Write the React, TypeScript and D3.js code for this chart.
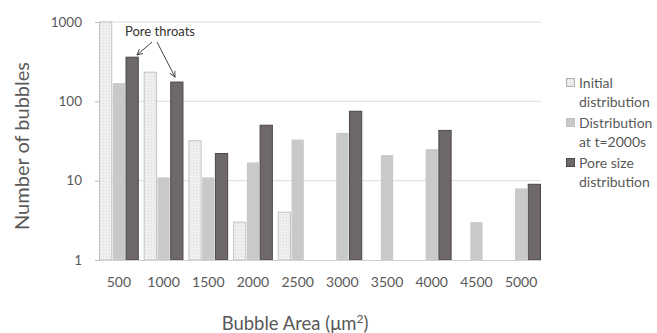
import React, { useRef, useEffect } from 'react';
import * as d3 from 'd3';

const categories = ['500', '1000', '1500', '2000', '2500', '3000', '3500', '4000', '4500', '5000'];
const seriesNames = ['Initial distribution', 'Distribution at t=2000s', 'Pore size distribution'];
const initialValues = [1000, 233, 32, 3, 4, null, null, null, null, null];
const finalValues = [170, 11, 11, 17, 33, 40, 21, 25, 3, 8];
const poreValues = [360, 175, 22, 50, null, 75, null, 43, null, 9];
const yTicks = [1, 10, 100, 1000];
const legendLines = [['Initial', 'distribution'], ['Distribution', 'at t=2000s'], ['Pore size', 'distribution']];

const fills = ['url(#dots)', '#c9c9c9', '#6f6868'];
const strokes = ['#c4c4c4', 'none', '#4d4848'];
const textColor = '#595959';
const font = 'Lato, "Open Sans", sans-serif';

const App = () => {
  const svgRef = useRef(null);

  useEffect(() => {
    const svg = d3.select(svgRef.current);
    svg.selectAll('*').remove();

    const left = 99, right = 541, top = 22, bottom = 260;

    const defs = svg.append('defs');
    const pat = defs.append('pattern')
      .attr('id', 'dots')
      .attr('width', 3).attr('height', 3)
      .attr('patternUnits', 'userSpaceOnUse');
    pat.append('rect').attr('width', 3).attr('height', 3).attr('fill', '#efefef');
    pat.append('rect').attr('x', 1).attr('y', 1).attr('width', 1).attr('height', 1).attr('fill', '#dcdcdc');
    defs.append('marker')
      .attr('id', 'arrow')
      .attr('viewBox', '0 0 10 10')
      .attr('refX', 9).attr('refY', 5)
      .attr('markerWidth', 7).attr('markerHeight', 7)
      .attr('orient', 'auto')
      .append('path')
      .attr('d', 'M1,1 L9,5 L1,9')
      .attr('fill', 'none')
      .attr('stroke', '#444')
      .attr('stroke-width', 1.3);

    const x = d3.scaleBand().domain(categories).range([left, right]).paddingInner(0.11).paddingOuter(0.0);
    const xs = d3.scaleBand().domain(seriesNames).range([0, x.bandwidth()]);
    const y = d3.scaleLog().domain([1, 1000]).range([bottom, top]);

    // gridlines
    svg.append('g')
      .selectAll('line')
      .data(yTicks.slice(1))
      .enter().append('line')
      .attr('x1', left).attr('x2', right)
      .attr('y1', d => y(d)).attr('y2', d => y(d))
      .attr('stroke', '#dcdcdc');

    const data = [initialValues, finalValues, poreValues];
    data.forEach((vals, si) => {
      svg.append('g')
        .selectAll('rect')
        .data(vals.map((v, i) => ({ v, c: categories[i] })).filter(d => d.v != null))
        .enter().append('rect')
        .attr('x', d => x(d.c) + xs(seriesNames[si]) + 0.5)
        .attr('width', xs.bandwidth() - 1)
        .attr('y', d => y(d.v))
        .attr('height', d => bottom - y(d.v))
        .attr('fill', fills[si])
        .attr('stroke', strokes[si])
        .attr('stroke-width', 1);
    });

    // axes
    const yAxis = svg.append('g')
      .attr('transform', `translate(${left},0)`)
      .call(d3.axisLeft(y).tickValues(yTicks).tickFormat(d3.format('d')).tickSize(4).tickPadding(13));
    yAxis.select('.domain').attr('stroke', '#bfbfbf');
    yAxis.selectAll('.tick line').attr('stroke', '#bfbfbf');
    yAxis.selectAll('text').attr('fill', textColor).style('font-size', '13.5px').style('font-family', font);

    const xAxis = svg.append('g')
      .attr('transform', `translate(0,${bottom})`)
      .call(d3.axisBottom(x).tickSize(0).tickPadding(17));
    xAxis.select('.domain').attr('stroke', '#d0d0d0').attr('d', `M${left},0.5H${right}`);
    xAxis.selectAll('text').attr('fill', textColor).style('font-size', '14px').style('font-family', font);

    // axis titles
    const title = svg.append('text')
      .attr('x', 295)
      .attr('y', 330)
      .attr('text-anchor', 'middle')
      .attr('fill', textColor)
      .style('font-family', font)
      .style('font-size', '18.5px');
    title.append('tspan').text('Bubble Area (μm');
    title.append('tspan').attr('baseline-shift', 'super').style('font-size', '12px').text('2');
    title.append('tspan').text(')');

    svg.append('text')
      .attr('transform', 'translate(29,146) rotate(-90)')
      .attr('text-anchor', 'middle')
      .attr('fill', textColor)
      .style('font-family', font)
      .style('font-size', '20px')
      .text('Number of bubbles');

    // annotation
    svg.append('text')
      .attr('x', 160).attr('y', 36)
      .attr('text-anchor', 'middle')
      .attr('fill', '#333')
      .style('font-family', font)
      .style('font-size', '13px')
      .text('Pore throats');
    svg.append('line')
      .attr('x1', 152).attr('y1', 42).attr('x2', 137).attr('y2', 55)
      .attr('stroke', '#444').attr('marker-end', 'url(#arrow)');
    svg.append('line')
      .attr('x1', 157).attr('y1', 42).attr('x2', 175).attr('y2', 77)
      .attr('stroke', '#444').attr('marker-end', 'url(#arrow)');

    // legend
    const legend = svg.append('g').attr('transform', 'translate(566,78)');
    legendLines.forEach((lines, i) => {
      const g = legend.append('g').attr('transform', `translate(0,${i * 40})`);
      g.append('rect')
        .attr('x', 0.5).attr('y', 0.5).attr('width', 8).attr('height', 8)
        .attr('fill', fills[i])
        .attr('stroke', i === 0 ? '#b0b0b0' : i === 1 ? '#c0c0c0' : '#4d4848');
      lines.forEach((t, j) => {
        g.append('text')
          .attr('x', 13).attr('y', 10 + j * 19)
          .attr('fill', textColor)
          .style('font-family', font)
          .style('font-size', '14px')
          .text(t);
      });
    });
  }, []);

  return (
    <svg ref={svgRef} width={657} height={333} style={{ position: 'absolute', left: 0, top: 0, background: '#fff' }}></svg>
  );
};

export default App;
